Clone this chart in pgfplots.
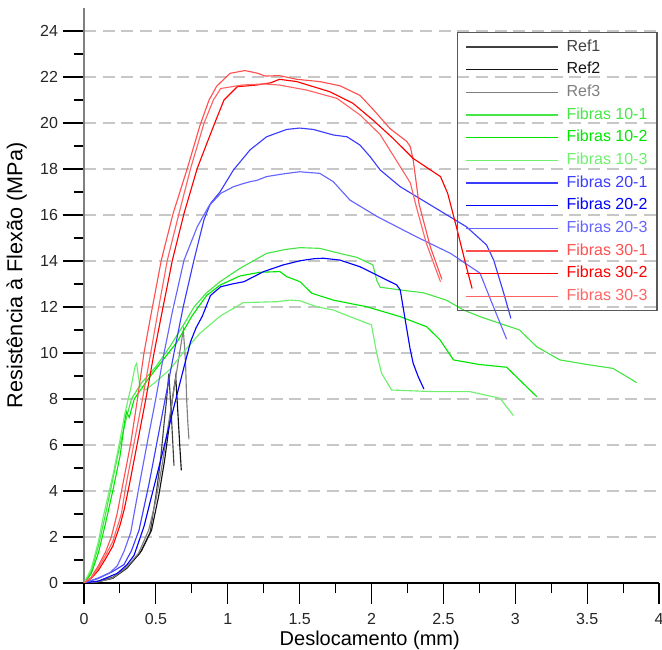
\documentclass[border=0pt]{standalone}
\usepackage{pgfplots}
\pgfplotsset{compat=1.18}
\usepackage{fontspec}
\setmainfont{Liberation Sans}
\usetikzlibrary{calc}
\definecolor{cRa}{RGB}{64,64,64}
\definecolor{cRb}{RGB}{20,20,20}
\definecolor{cRc}{RGB}{128,128,128}
\definecolor{cGa}{RGB}{70,230,70}
\definecolor{cGb}{RGB}{0,230,0}
\definecolor{cGc}{RGB}{110,240,110}
\definecolor{cBa}{RGB}{60,60,255}
\definecolor{cBb}{RGB}{0,0,255}
\definecolor{cBc}{RGB}{100,100,255}
\definecolor{cSa}{RGB}{255,80,80}
\definecolor{cSb}{RGB}{255,0,0}
\definecolor{cSc}{RGB}{255,100,100}
\begin{document}
\begin{tikzpicture}
\begin{axis}[name=ax,
  scale only axis, width=431.25pt, height=431.25pt,
  xmin=0, xmax=4, ymin=0, ymax=25,
  axis lines=left, axis line style={-},
  x axis line style={black, line width=1pt},
  y axis line style={black!50, line width=1.2pt},
  xtick={0,0.5,...,4}, ytick={0,2,...,24},
  minor xtick={0.25,0.75,...,3.75}, minor ytick={1,3,...,23},
  tick align=outside, major tick length=16pt, minor tick length=7.5pt,
  every tick/.style={black, line width=0.8pt},
  ymajorgrids,
  major grid style={dash pattern=on 9pt off 5pt, black!22, line width=1.1pt},
  /pgf/number format/assume math mode=true,
  tick label style={font=\fontsize{12}{14}\selectfont, text=black!85},
  xticklabel style={yshift=-3pt},
  xlabel={Deslocamento (mm)}, ylabel={Resistência à Flexão (MPa)},
  every axis x label/.style={at={(axis description cs:0.497,-0.099)}, anchor=center, font=\fontsize{15}{18}\selectfont},
  every axis y label/.style={at={(axis description cs:-0.117,0.535)}, anchor=center, rotate=90, font=\fontsize{16.2}{19}\selectfont},
  no markers,
  every axis plot/.append style={line width=0.85pt},
  legend image code/.code={\draw[#1, line width=0.85pt] (0pt,0pt) -- (69pt,0pt);},
  legend cell align=left,
  legend style={at={(axis cs:3.99,23.96)}, anchor=north east, draw=black!65, line width=1.1pt, fill=none,
    font=\fontsize{12}{14}\selectfont, row sep=3.5pt, inner xsep=6pt, inner ysep=4pt,
    nodes={inner sep=1pt, text height=9pt, text depth=2.5pt},
    /tikz/every odd column/.append style={column sep=5pt}},
]
\addplot[cRa] coordinates {(0,0) (0.1,0.08) (0.2,0.25) (0.3,0.7) (0.39,1.3) (0.46,2.2) (0.5,3.8) (0.53,5.2) (0.555,6.8) (0.575,8.0) (0.59,9.1) (0.605,7.6) (0.616,6.3) (0.626,5.1)};
\addlegendentry[text=cRa]{Ref1}
\addplot[cRb] coordinates {(0,0) (0.1,0.06) (0.2,0.2) (0.3,0.65) (0.4,1.4) (0.47,2.3) (0.52,3.8) (0.56,5.3) (0.59,6.7) (0.615,8.0) (0.638,8.97) (0.655,7.2) (0.666,6.0) (0.677,4.9)};
\addlegendentry[text=cRb]{Ref2}
\addplot[cRc] coordinates {(0,0) (0.1,0.05) (0.2,0.22) (0.3,0.7) (0.38,1.3) (0.45,2.3) (0.5,3.6) (0.54,5.0) (0.58,6.6) (0.62,8.2) (0.66,9.8) (0.691,11.0) (0.7,10.2) (0.707,9.5) (0.714,8.0) (0.722,7.0) (0.73,6.25)};
\addlegendentry[text=cRc]{Ref3}
\addplot[cGa] coordinates {(0,0) (0.05,0.5) (0.1,1.6) (0.15,3.0) (0.2,4.5) (0.25,6.0) (0.3,7.3) (0.33,8.0) (0.4,8.7) (0.5,9.4) (0.6,10.3) (0.7,11.3) (0.765,12.0) (0.85,12.6) (0.946,13.1) (1.085,13.68) (1.27,14.33) (1.4,14.5) (1.503,14.58) (1.64,14.55) (1.78,14.33) (1.897,14.16) (2.01,13.83) (2.036,13.17) (2.06,12.86) (2.2,12.74) (2.36,12.62) (2.52,12.3) (2.64,11.87) (2.755,11.58) (3.03,11.0) (3.15,10.27) (3.31,9.7) (3.5,9.5) (3.68,9.33) (3.845,8.71)};
\addlegendentry[text=cGa]{Fibras 10-1}
\addplot[cGb] coordinates {(0,0) (0.05,0.4) (0.1,1.3) (0.15,2.6) (0.2,4.0) (0.25,5.5) (0.285,7.1) (0.295,7.45) (0.315,7.2) (0.35,8.0) (0.45,8.9) (0.55,9.7) (0.65,10.5) (0.75,11.6) (0.853,12.5) (0.946,12.95) (1.085,13.35) (1.224,13.51) (1.363,13.54) (1.41,13.32) (1.503,13.1) (1.584,12.6) (1.734,12.3) (1.967,12.01) (2.2,11.58) (2.384,11.14) (2.477,10.57) (2.57,9.7) (2.75,9.5) (2.94,9.38) (3.15,8.1)};
\addlegendentry[text=cGb]{Fibras 10-2}
\addplot[cGc] coordinates {(0,0) (0.05,0.6) (0.1,1.8) (0.134,2.88) (0.204,4.77) (0.25,6.2) (0.285,7.38) (0.33,8.6) (0.355,9.41) (0.366,9.55) (0.385,8.7) (0.401,8.46) (0.43,8.4) (0.5,8.75) (0.6,9.3) (0.7,10.1) (0.807,10.86) (0.946,11.6) (1.108,12.19) (1.34,12.23) (1.433,12.3) (1.503,12.27) (1.619,12.01) (1.734,11.87) (1.85,11.58) (2.0,11.22) (2.036,9.99) (2.07,9.12) (2.14,8.39) (2.43,8.32) (2.685,8.32) (2.894,8.03) (2.987,7.28)};
\addlegendentry[text=cGc]{Fibras 10-3}
\addplot[cBa] coordinates {(0,0) (0.1,0.2) (0.2,0.5) (0.278,0.8) (0.33,1.4) (0.383,2.3) (0.452,4.3) (0.51,6.2) (0.568,8.1) (0.626,10.0) (0.69,12.0) (0.765,14.04) (0.835,15.8) (0.88,16.5) (0.946,17.0) (1.04,17.96) (1.155,18.83) (1.27,19.4) (1.41,19.72) (1.5,19.78) (1.595,19.72) (1.734,19.48) (1.83,19.4) (1.92,19.04) (1.99,18.54) (2.06,17.96) (2.2,17.23) (2.43,16.36) (2.66,15.49) (2.8,14.7) (2.85,14.04) (2.92,12.6) (2.97,11.5)};
\addlegendentry[text=cBa]{Fibras 20-1}
\addplot[cBb] coordinates {(0,0) (0.1,0.08) (0.232,0.42) (0.3,0.8) (0.348,1.2) (0.417,2.45) (0.487,4.19) (0.557,5.93) (0.626,7.67) (0.696,9.4) (0.742,10.5) (0.78,11.1) (0.823,11.6) (0.88,12.5) (0.951,12.88) (1.03,13.0) (1.113,13.1) (1.25,13.54) (1.386,13.83) (1.503,14.01) (1.6,14.1) (1.665,14.12) (1.78,14.04) (1.92,13.75) (2.036,13.39) (2.175,12.96) (2.2,12.74) (2.233,11.5) (2.268,10.2) (2.29,9.55) (2.325,8.97) (2.365,8.43)};
\addlegendentry[text=cBb]{Fibras 20-2}
\addplot[cBc] coordinates {(0,0) (0.1,0.22) (0.18,0.45) (0.232,0.75) (0.28,1.4) (0.325,2.2) (0.383,4.2) (0.44,6.1) (0.499,8.0) (0.557,10.0) (0.615,11.8) (0.696,14.04) (0.788,15.49) (0.87,16.4) (0.951,16.94) (1.04,17.23) (1.1,17.35) (1.155,17.45) (1.2,17.5) (1.27,17.67) (1.4,17.8) (1.5,17.88) (1.64,17.81) (1.734,17.45) (1.85,16.65) (2.04,15.93) (2.31,15.06) (2.55,14.33) (2.755,13.47) (2.82,12.45) (2.94,10.6)};
\addlegendentry[text=cBc]{Fibras 20-3}
\addplot[cSa] coordinates {(0,0) (0.05,0.25) (0.1,0.75) (0.15,1.35) (0.19,2.0) (0.23,3.0) (0.267,4.19) (0.325,6.07) (0.371,7.96) (0.417,9.99) (0.464,11.6) (0.538,14.04) (0.62,16.07) (0.719,18.03) (0.807,19.9) (0.87,21.0) (0.923,21.6) (1.016,22.16) (1.12,22.28) (1.21,22.16) (1.26,22.04) (1.36,22.06) (1.48,21.9) (1.64,21.8) (1.78,21.62) (1.92,21.2) (2.01,20.6) (2.13,19.75) (2.245,19.2) (2.27,18.97) (2.29,18.4) (2.33,16.5) (2.41,14.6) (2.49,13.2)};
\addlegendentry[text=cSa]{Fibras 30-1}
\addplot[cSb] coordinates {(0,0) (0.05,0.2) (0.1,0.55) (0.15,1.05) (0.2,1.6) (0.25,2.5) (0.28,3.2) (0.313,4.19) (0.371,6.07) (0.429,7.96) (0.487,9.99) (0.55,12.0) (0.615,14.04) (0.696,16.07) (0.788,18.03) (0.86,19.2) (0.916,20.1) (0.974,21.0) (1.067,21.58) (1.2,21.65) (1.3,21.75) (1.36,21.9) (1.48,21.8) (1.71,21.36) (1.87,20.86) (2.01,20.13) (2.15,19.33) (2.29,18.46) (2.4,18.0) (2.48,17.67) (2.53,16.94) (2.59,15.5) (2.66,13.75) (2.7,12.8)};
\addlegendentry[text=cSb]{Fibras 30-2}
\addplot[cSc] coordinates {(0,0) (0.05,0.22) (0.1,0.65) (0.15,1.2) (0.2,1.8) (0.26,3.0) (0.29,4.19) (0.348,6.07) (0.406,7.96) (0.464,9.99) (0.52,12.0) (0.58,14.04) (0.661,16.07) (0.742,18.03) (0.835,19.99) (0.9,21.0) (0.951,21.5) (1.1,21.65) (1.25,21.7) (1.36,21.65) (1.55,21.43) (1.76,21.07) (1.92,20.35) (2.06,19.5) (2.2,18.1) (2.27,17.4) (2.31,16.4) (2.38,14.8) (2.45,13.6) (2.48,13.1)};
\addlegendentry[text=cSc]{Fibras 30-3}
\end{axis}
\pgfresetboundingbox
\path[use as bounding box] ($(ax.south west)+(-63pt,-50.25pt)$) rectangle ($(ax.north east)+(2.25pt,6pt)$);
\end{tikzpicture}
\end{document}
